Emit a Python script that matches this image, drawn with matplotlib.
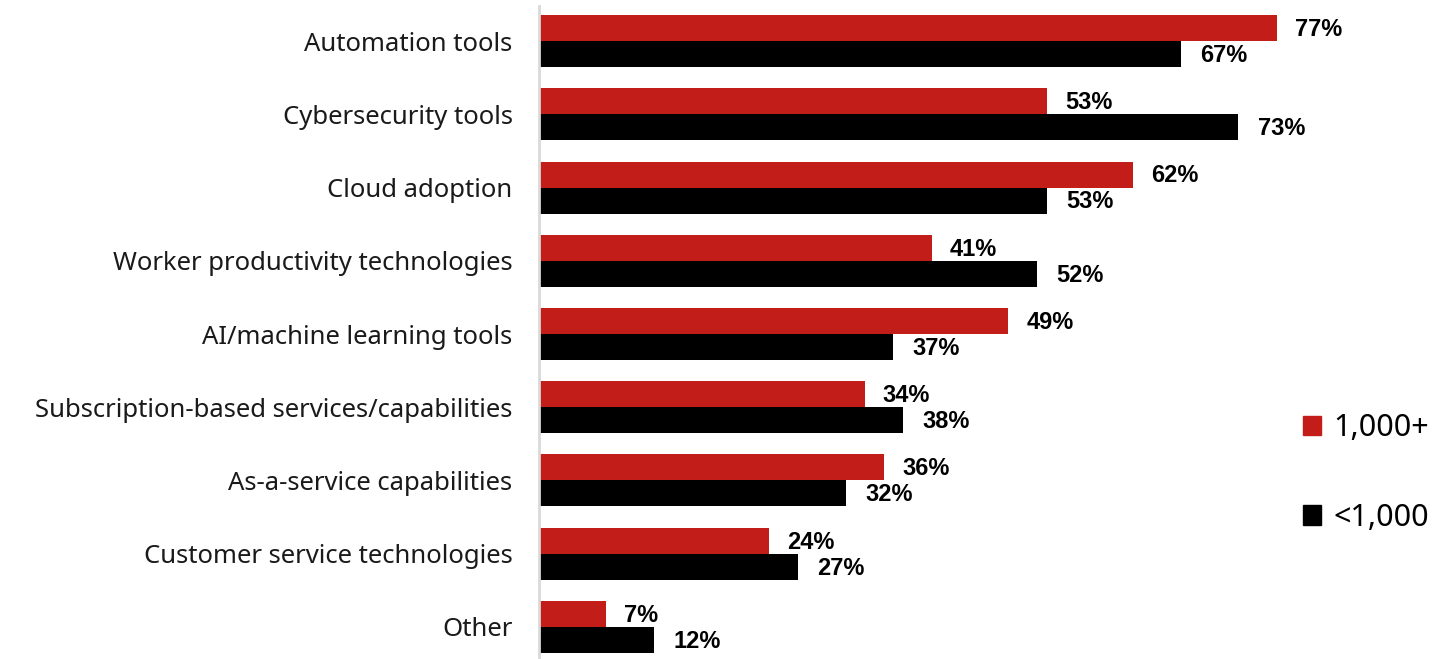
import numpy as np
import matplotlib.pyplot as plt
from matplotlib.patches import Patch

# Data
categories = [
    "Automation tools",
    "Cybersecurity tools",
    "Cloud adoption",
    "Worker productivity technologies",
    "AI/machine learning tools",
    "Subscription-based services/capabilities",
    "As-a-service capabilities",
    "Customer service technologies",
    "Other",
]
large = [77, 53, 62, 41, 49, 34, 36, 24, 7]   # 1,000+
small = [67, 73, 53, 52, 37, 38, 32, 27, 12]  # <1,000

red = "#C21D19"
black = "#000000"

fig = plt.figure(figsize=(14.35, 6.59), dpi=100)
ax = fig.add_axes([539 / 1435, 0, (80 * 9.58) / 1435, 653 / 659])

y = np.arange(len(categories))
h = 0.355
ax.barh(y - h / 2, large, height=h, color=red, label="1,000+")
ax.barh(y + h / 2, small, height=h, color=black, label="<1,000")

for yi, v in zip(y, large):
    ax.annotate(f"{v}%", (v, yi - h / 2), xytext=(13, -1), textcoords="offset points",
                va="center", ha="left", fontsize=17, fontweight="bold",
                family="Liberation Sans")
for yi, v in zip(y, small):
    ax.annotate(f"{v}%", (v, yi + h / 2), xytext=(14, -1), textcoords="offset points",
                va="center", ha="left", fontsize=17, fontweight="bold",
                family="Liberation Sans")

ax.set_xlim(0, 80)
ax.set_ylim(8.437, -0.478)
ax.set_yticks(y)
ax.set_yticklabels(categories, family="Noto Sans", fontsize=18.5, color="#1a1a1a")
ax.tick_params(axis="y", length=0, pad=19)
for lbl in ax.get_yticklabels():
    lbl.set_y(lbl.get_position()[1])
ax.set_xticks([])
for s in ["top", "right", "bottom"]:
    ax.spines[s].set_visible(False)
ax.spines["left"].set_color("#D9D9D9")
ax.spines["left"].set_linewidth(2)

handles = [Patch(color=red), Patch(color=black)]
fig.legend(handles, ["1,000+", "<1,000"], loc="center left",
           bbox_to_anchor=(1275 / 1435, 1 - 473 / 659), frameon=False,
           prop={"family": "Noto Sans", "size": 22}, labelspacing=1.95,
           handlelength=0.6, handleheight=0.6, handletextpad=0.4)

fig.savefig("out.png", dpi=100)
